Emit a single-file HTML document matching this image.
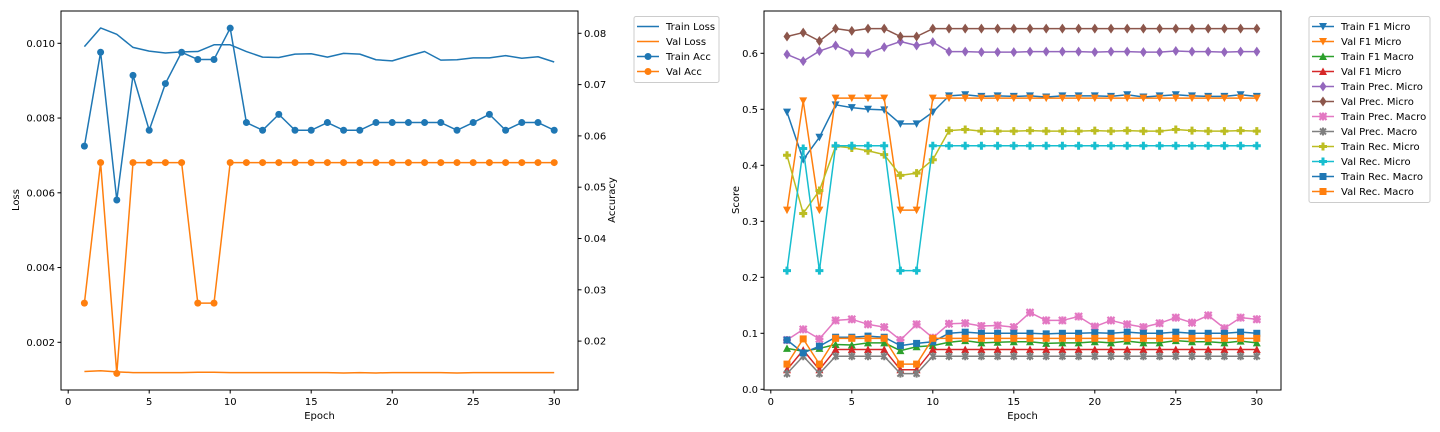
<!DOCTYPE html>
<html><head><meta charset="utf-8"><style>
body{margin:0;background:#fff;}
svg{display:block;font-family:"DejaVu Sans","Liberation Sans",sans-serif;}
text{font-size:10px;fill:#000;}
</style></head><body>
<svg id="s" width="1440" height="432" viewBox="0 0 1440 432"></svg>
<script>
const epochs = Array.from({length:30},(_,i)=>i+1);
const trainLoss=[0.00991,0.01041,0.01024,0.00989,0.00979,0.00974,0.00977,0.00978,0.00996,0.00996,0.00978,0.00963,0.00962,0.00971,0.00972,0.00963,0.00973,0.00971,0.00956,0.00953,0.00966,0.00978,0.00955,0.00956,0.00961,0.00961,0.00967,0.00960,0.00964,0.00950];
const valLoss=[0.00122,0.00124,0.00121,0.00119,0.00119,0.00119,0.00119,0.00120,0.00120,0.00119,0.00119,0.00119,0.00119,0.00119,0.00119,0.00119,0.00118,0.00119,0.00118,0.00119,0.00119,0.00119,0.00119,0.00118,0.00119,0.00119,0.00119,0.00119,0.00119,0.00119];
const trainAcc=[0.0580,0.0763,0.0475,0.0718,0.0611,0.0702,0.0763,0.0749,0.0749,0.0810,0.0626,0.0611,0.0642,0.0611,0.0611,0.0626,0.0611,0.0611,0.0626,0.0626,0.0626,0.0626,0.0626,0.0611,0.0626,0.0642,0.0611,0.0626,0.0626,0.0611];
const valAcc=[0.0274,0.0548,0.0137,0.0548,0.0548,0.0548,0.0548,0.0274,0.0274,0.0548,0.0548,0.0548,0.0548,0.0548,0.0548,0.0548,0.0548,0.0548,0.0548,0.0548,0.0548,0.0548,0.0548,0.0548,0.0548,0.0548,0.0548,0.0548,0.0548,0.0548];
const lossTicks=[0.002,0.004,0.006,0.008,0.010];
const accTicks=[0.02,0.03,0.04,0.05,0.06,0.07,0.08];
const epochTicks=[0,5,10,15,20,25,30];
const scoreTicks=[0,0.1,0.2,0.3,0.4,0.5,0.6];
const trainF1Micro=[0.495,0.41,0.45,0.508,0.503,0.5,0.499,0.474,0.474,0.495,0.524,0.526,0.523,0.524,0.523,0.524,0.522,0.524,0.524,0.524,0.523,0.526,0.522,0.524,0.526,0.524,0.523,0.523,0.526,0.523];
const valF1Micro=[0.32,0.515,0.32,0.52,0.52,0.52,0.52,0.32,0.32,0.52,0.52,0.52,0.52,0.52,0.52,0.52,0.52,0.52,0.52,0.52,0.52,0.52,0.52,0.52,0.52,0.52,0.52,0.52,0.52,0.52];
const trainF1Macro=[0.073,0.068,0.073,0.08,0.079,0.083,0.083,0.069,0.076,0.078,0.084,0.087,0.083,0.084,0.085,0.085,0.082,0.083,0.083,0.085,0.083,0.086,0.083,0.083,0.087,0.085,0.085,0.083,0.086,0.083];
const valF1Micro2=[0.035,0.07,0.035,0.071,0.071,0.071,0.071,0.035,0.035,0.071,0.071,0.071,0.071,0.071,0.071,0.071,0.071,0.071,0.071,0.071,0.071,0.071,0.071,0.071,0.071,0.071,0.071,0.071,0.071,0.071];
const trainPrecMicro=[0.598,0.586,0.604,0.614,0.601,0.6,0.611,0.621,0.614,0.62,0.603,0.603,0.602,0.602,0.602,0.603,0.603,0.603,0.603,0.602,0.603,0.603,0.602,0.602,0.604,0.603,0.603,0.602,0.603,0.603];
const valPrecMicro=[0.63,0.637,0.622,0.644,0.64,0.644,0.644,0.63,0.63,0.644,0.644,0.644,0.644,0.644,0.644,0.644,0.644,0.644,0.644,0.644,0.644,0.644,0.644,0.644,0.644,0.644,0.644,0.644,0.644,0.644];
const trainPrecMacro=[0.088,0.107,0.09,0.123,0.125,0.116,0.111,0.088,0.116,0.092,0.117,0.118,0.113,0.114,0.111,0.137,0.123,0.123,0.13,0.112,0.123,0.116,0.111,0.118,0.128,0.119,0.132,0.109,0.128,0.125];
const valPrecMacro=[0.028,0.059,0.028,0.059,0.059,0.059,0.059,0.028,0.028,0.059,0.059,0.059,0.059,0.059,0.059,0.059,0.059,0.059,0.059,0.059,0.059,0.059,0.059,0.059,0.059,0.059,0.059,0.059,0.059,0.059];
const trainRecMicro=[0.418,0.314,0.355,0.434,0.431,0.426,0.419,0.382,0.386,0.41,0.462,0.464,0.461,0.461,0.461,0.462,0.461,0.461,0.461,0.462,0.461,0.462,0.461,0.461,0.464,0.462,0.461,0.461,0.462,0.461];
const valRecMicro=[0.212,0.43,0.212,0.435,0.435,0.435,0.435,0.212,0.212,0.435,0.435,0.435,0.435,0.435,0.435,0.435,0.435,0.435,0.435,0.435,0.435,0.435,0.435,0.435,0.435,0.435,0.435,0.435,0.435,0.435];
const trainRecMacro=[0.088,0.065,0.077,0.093,0.093,0.095,0.093,0.078,0.082,0.085,0.1,0.102,0.1,0.1,0.1,0.1,0.099,0.1,0.1,0.101,0.1,0.102,0.1,0.1,0.102,0.1,0.1,0.1,0.102,0.1];
const valRecMacro=[0.045,0.09,0.045,0.091,0.091,0.091,0.091,0.045,0.045,0.091,0.091,0.091,0.091,0.091,0.091,0.091,0.091,0.091,0.091,0.091,0.091,0.091,0.091,0.091,0.091,0.091,0.091,0.091,0.091,0.091];

const NS="http://www.w3.org/2000/svg";
const svg=document.getElementById('s');
function mk(tag,attrs,parent){const e=document.createElementNS(NS,tag);for(const k in attrs)e.setAttribute(k,attrs[k]);(parent||svg).appendChild(e);return e;}
function txt(x,y,s,anchor,parent,rot){const t=mk('text',{x:x,y:y,'text-anchor':anchor||'middle'},parent);if(rot)t.setAttribute('transform','rotate(-90 '+x+' '+y+')');t.textContent=s;return t;}

const L={x0:61,x1:578,y0:11,y1:390};
const lx=e=>68.2+e*16.2;
const ly=v=>43.3+(0.010-v)/0.002*74.75;
const ay=v=>33.3+(0.08-v)/0.01*51.3;
const R={x0:764,x1:1281,y0:11,y1:390};
const rx=e=>770.8+e*16.2;
const ry=v=>389.3-v*560;

function marker(g,type,x,y,c){
  let m;
  if(type==='o') m=mk('circle',{cx:x,cy:y,r:3.5,fill:c},g);
  else if(type==='v') m=mk('polygon',{points:`${x-4},${y-3.5} ${x+4},${y-3.5} ${x},${y+4}`,fill:c},g);
  else if(type==='^') m=mk('polygon',{points:`${x-4},${y+3.5} ${x+4},${y+3.5} ${x},${y-4}`,fill:c},g);
  else if(type==='d') m=mk('polygon',{points:`${x},${y-5} ${x+3.5},${y} ${x},${y+5} ${x-3.5},${y}`,fill:c},g);
  else if(type==='s') m=mk('rect',{x:x-3.5,y:y-3.5,width:7,height:7,fill:c},g);
  else if(type==='P') m=mk('path',{d:`M${x-1.5},${y-4}h3v2.5h2.5v3h-2.5v2.5h-3v-2.5h-2.5v-3h2.5z`,fill:c},g);
  else if(type==='X') m=mk('path',{d:`M${x-3.5},${y-3.5}L${x+3.5},${y+3.5}M${x+3.5},${y-3.5}L${x-3.5},${y+3.5}M${x},${y-4}V${y+4}M${x-4},${y}H${x+4}`,stroke:c,'stroke-width':2.2},g);
  else if(type==='*') m=mk('path',{d:`M${x-3},${y-3}L${x+3},${y+3}M${x+3},${y-3}L${x-3},${y+3}M${x},${y-4}V${y+4}`,stroke:c,'stroke-width':2},g);
  return m;
}
function series(name,xs,vals,fx,fy,color,mtype){
  const g=mk('g',{});
  
  
  mk('polyline',{points:xs.map((e,i)=>fx(e)+','+fy(vals[i])).join(' '),fill:'none',stroke:color,'stroke-width':1.5,'stroke-linejoin':'round'},g);
  if(mtype) xs.forEach((e,i)=>{const m=marker(g,mtype,fx(e),fy(vals[i]),color);
    
    });
}
function axes(A,name){
  const g=mk('g',{});
  
  
  mk('rect',{x:A.x0,y:A.y0,width:A.x1-A.x0,height:A.y1-A.y0,fill:'none',stroke:'#000','stroke-width':1},g);
  return g;
}
function xTicks(g,fx,A){
  epochTicks.forEach(t=>{const x=fx(t);mk('line',{x1:x,x2:x,y1:A.y1,y2:A.y1+3.5,stroke:'#000'},g);txt(x,A.y1+15,String(t),'middle',g);});
  txt((A.x0+A.x1)/2,419,'Epoch','middle',g);
}
const gl=axes(L,'loss-accuracy-axes');
xTicks(gl,lx,L);
lossTicks.forEach(t=>{const y=ly(t);mk('line',{x1:L.x0-3.5,x2:L.x0,y1:y,y2:y,stroke:'#000'},gl);txt(L.x0-6,y+3.5,t.toFixed(3),'end',gl);});
accTicks.forEach(t=>{const y=ay(t);mk('line',{x1:L.x1,x2:L.x1+3.5,y1:y,y2:y,stroke:'#000'},gl);txt(L.x1+6,y+3.5,t.toFixed(2),'start',gl);});
txt(19,200,'Loss','middle',gl,true);
txt(615,200,'Accuracy','middle',gl,true);
series('train-loss-line',epochs,trainLoss,lx,ly,'#1f77b4',null);
series('val-loss-line',epochs,valLoss,lx,ly,'#ff7f0e',null);
series('train-acc-line',epochs,trainAcc,lx,ay,'#1f77b4','o');
series('val-acc-line',epochs,valAcc,lx,ay,'#ff7f0e','o');

const gr=axes(R,'score-axes');
xTicks(gr,rx,R);
scoreTicks.forEach(t=>{const y=ry(t);mk('line',{x1:R.x0-3.5,x2:R.x0,y1:y,y2:y,stroke:'#000'},gr);txt(R.x0-6,y+3.5,t.toFixed(1),'end',gr);});
txt(739,200,'Score','middle',gr,true);
const rs=[
 ['Train F1 Micro',trainF1Micro,'#1f77b4','v'],
 ['Val F1 Micro',valF1Micro,'#ff7f0e','v'],
 ['Train F1 Macro',trainF1Macro,'#2ca02c','^'],
 ['Val F1 Micro',valF1Micro2,'#d62728','^'],
 ['Train Prec. Micro',trainPrecMicro,'#9467bd','d'],
 ['Val Prec. Micro',valPrecMicro,'#8c564b','d'],
 ['Train Prec. Macro',trainPrecMacro,'#e377c2','X'],
 ['Val Prec. Macro',valPrecMacro,'#7f7f7f','*'],
 ['Train Rec. Micro',trainRecMicro,'#bcbd22','P'],
 ['Val Rec. Micro',valRecMicro,'#17becf','P'],
 ['Train Rec. Macro',trainRecMacro,'#1f77b4','s'],
 ['Val Rec. Macro',valRecMacro,'#ff7f0e','s']];
rs.forEach((s,i)=>series(s[0].toLowerCase().replace(/\. /g,'-').replace(/ /g,'-')+'-'+i,epochs,s[1],rx,ry,s[2],s[3]));

function legend(x,y,w,items,name){
  const g=mk('g',{});
  
  
  mk('rect',{x:x,y:y,width:w,height:items.length*15+6,fill:'#fff',stroke:'#ccc',rx:2},g);
  items.forEach((it,i)=>{
    const cy=y+10+i*15;
    const e=mk('g',{},g);
    
    
    mk('line',{x1:x+3,x2:x+25,y1:cy,y2:cy,stroke:it[1],'stroke-width':1.5},e);
    if(it[2]) marker(e,it[2],x+14,cy,it[1]);
    txt(x+32,cy+3.5,it[0],'start',e);
  });
}
legend(634,16.5,85,[['Train Loss','#1f77b4',null],['Val Loss','#ff7f0e',null],['Train Acc','#1f77b4','o'],['Val Acc','#ff7f0e','o']],'left-legend');
legend(1309,16.5,121,rs.map(s=>[s[0],s[2],s[3]]),'right-legend');
</script>
</body></html>
